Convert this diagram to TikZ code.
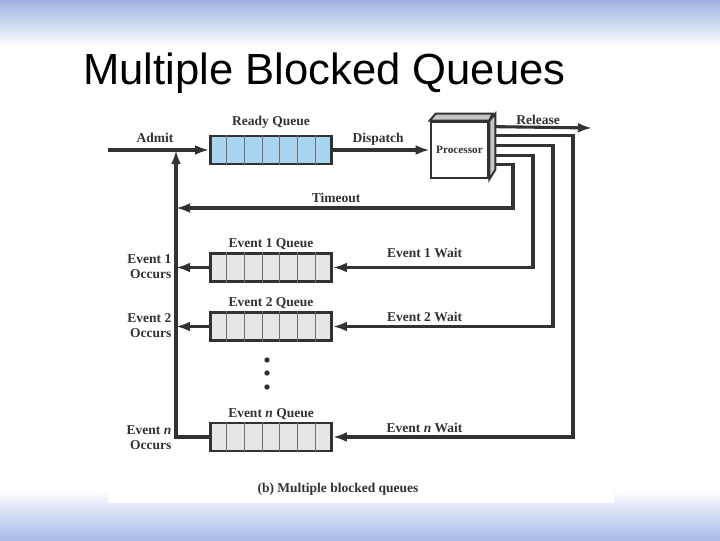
\documentclass[tikz,border=0pt]{standalone}
\usepackage{fontspec}
\setmainfont{Liberation Serif}
\newfontfamily\titlefont{Liberation Sans}
\usetikzlibrary{positioning,calc,arrows.meta}
\definecolor{ink}{RGB}{50,50,50}
\definecolor{readyblue}{RGB}{168,214,240}
\definecolor{blockgray}{RGB}{230,230,230}
\definecolor{slidetop}{RGB}{155,178,224}
\definecolor{slidebottom}{RGB}{165,187,232}
\tikzset{
    queue/.style={draw=ink, line width=1.9pt, minimum width=3.025cm, minimum height=0.7cm, inner sep=0pt},
    flow/.style={draw=ink, line width=2.2pt},
    arrow/.style={flow, -{Latex[length=10pt,width=7pt]}},
    lbl/.style={font=\bfseries\fontsize{9.6}{10.6}\selectfont, text=ink, inner sep=1pt},
}
\newcommand{\cells}[1]{%
    \foreach \i in {1,...,6}
        \draw[ink!70, line width=0.7pt] ($(#1.north west)!\i/7!(#1.north east)$) -- ($(#1.south west)!\i/7!(#1.south east)$);
}

\begin{document}
\begin{tikzpicture}[x=0.025cm, y=-0.025cm]
            \useasboundingbox (0,0) rectangle (720,540);
            \shade[top color=slidetop, bottom color=white] (0,0) rectangle (720,46);
            \shade[top color=white, bottom color=slidebottom] (0,490) rectangle (720,540);
            \fill[white] (108,100) rectangle (614,503);

            \node[anchor=base west, inner sep=0pt, font=\titlefont\fontsize{31}{36}\selectfont] (title) at (83,84) {Multiple Blocked Queues};

            \node[queue, fill=readyblue] (rq) at (271,150) {};
            \node[queue, fill=blockgray] (e1) at (271,267.5) {};
            \node[queue, fill=blockgray] (e2) at (271,326.5) {};
            \node[queue, fill=blockgray] (en) at (271,437) {};
            \cells{rq}
            \cells{e1}
            \cells{e2}
            \cells{en}

            \node[lbl, above=3.5pt of rq] (rqlbl) {Ready Queue};
            \node[lbl, above=0.5pt of e1] (e1lbl) {Event 1 Queue};
            \node[lbl, above=0.5pt of e2] (e2lbl) {Event 2 Queue};
            \node[lbl, above=0.5pt of en] (enlbl) {Event \textit{n} Queue};

            \node[draw=ink, fill=white, line width=1.9pt, minimum width=1.425cm, minimum height=1.4cm, inner sep=0pt,
                  font=\bfseries\fontsize{8}{9}\selectfont, text=ink] (proc) at (459.5,150) {Processor};
            \draw[ink, line width=1.4pt, fill=gray!45] (proc.north west) -- ++(6,-7) -- ++(57,0) -- (proc.north east) -- cycle;
            \draw[ink, line width=1.4pt, fill=gray!45] (proc.north east) -- ++(6,-7) -- ++(0,56) -- (proc.south east) -- cycle;

            \coordinate (out0) at ([shift={(6,6)}]proc.north east);
            \coordinate (out1) at ([shift={(6,15)}]proc.north east);
            \coordinate (out2) at ([shift={(6,25)}]proc.north east);
            \coordinate (out3) at ([shift={(6,35)}]proc.north east);
            \coordinate (out4) at ([shift={(6,44)}]proc.north east);

            \coordinate (admit) at (108,150);
            \coordinate (release) at (592,128);
            \coordinate (merge) at (176,150);
            \coordinate (tbend) at (513,208);
            \coordinate (w1bend) at (533,267.5);
            \coordinate (w2bend) at (553,326.5);
            \coordinate (wnbend) at (573,437);

            \draw[arrow] (admit) -- (rq);
            \draw[arrow] (rq) -- (proc);
            \draw[arrow] (out0) -- (release);
            \draw[arrow] (out4) -| (tbend) -- (tbend -| merge);
            \draw[arrow] (out3) -| (w1bend) -- (e1);
            \draw[arrow] (out2) -| (w2bend) -- (e2);
            \draw[arrow] (out1) -| (wnbend) -- (en);
            \draw[arrow] (e1) -- (e1 -| merge);
            \draw[arrow] (e2) -- (e2 -| merge);
            \draw[arrow] (en.west) -- (en.west -| merge) -- (merge);

            \foreach \y [count=\k] in {360,373,387}
                \node[circle, fill=ink, inner sep=0pt, minimum size=3.8pt] (dot\k) at (267,\y) {};

            \node[lbl, anchor=base] (admitlbl) at (155,142) {Admit};
            \node[lbl, anchor=base] (displbl) at (378,142) {Dispatch};
            \node[lbl, anchor=base] (rellbl) at (538,124) {Release};
            \node[lbl, anchor=base] (tolbl) at (336,202) {Timeout};
            \node[lbl, anchor=base] (w1lbl) at (424.5,257) {Event 1 Wait};
            \node[lbl, anchor=base] (w2lbl) at (424.5,321) {Event 2 Wait};
            \node[lbl, anchor=base] (wnlbl) at (424.5,432) {Event \textit{n} Wait};
            \node[lbl, anchor=east, align=right] (o1lbl) at (173,267) {Event 1\\Occurs};
            \node[lbl, anchor=east, align=right] (o2lbl) at (173,325.5) {Event 2\\Occurs};
            \node[lbl, anchor=east, align=right] (onlbl) at (173,437.5) {Event \textit{n}\\Occurs};

            \node[lbl, anchor=base] (caption) at (338,492) {(b) Multiple blocked queues};
\end{tikzpicture}
\end{document}
